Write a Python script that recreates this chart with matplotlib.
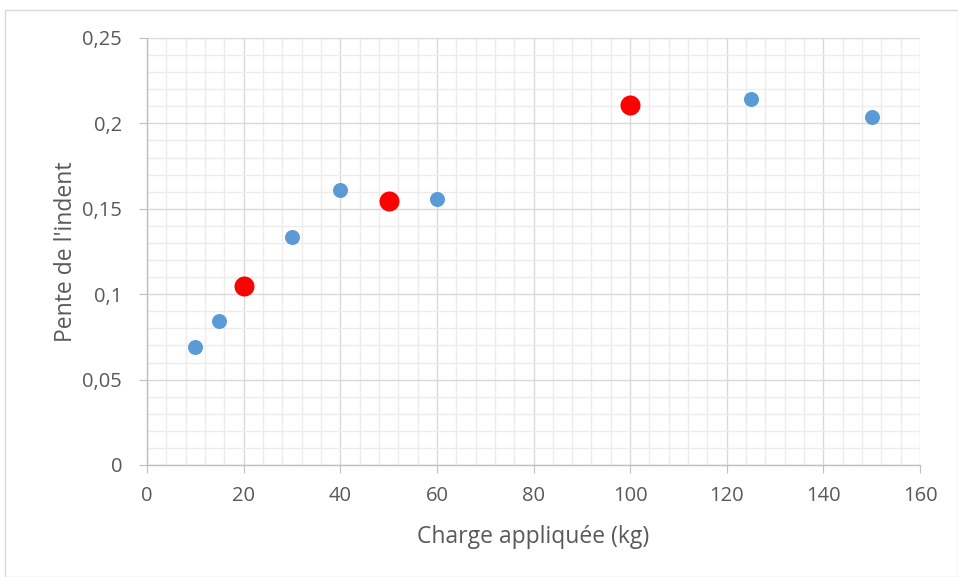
import matplotlib
matplotlib.use("Agg")
import matplotlib.pyplot as plt
from matplotlib.ticker import MultipleLocator, FixedLocator
from matplotlib.patches import Rectangle

blue_x = [10, 15, 30, 40, 60, 125, 150]
blue_y = [0.0691, 0.0843, 0.1335, 0.161, 0.1557, 0.2143, 0.2037]
red_x = [20, 50, 100]
red_y = [0.1048, 0.1546, 0.2108]

x_ticks = [0, 20, 40, 60, 80, 100, 120, 140, 160]
y_ticks = [0, 0.05, 0.1, 0.15, 0.2, 0.25]
y_tick_labels = ["0", "0,05", "0,1", "0,15", "0,2", "0,25"]

plt.rcParams['font.family'] = ['Open Sans', 'DejaVu Sans']

fig = plt.figure(figsize=(9.58, 5.77), dpi=100)
W, H = 958, 577
ax = fig.add_axes([147 / W, 1 - 465 / H, (920 - 147) / W, (465 - 38) / H])

# figure border
fig.patches.append(Rectangle((5 / W, 0), 1 - 5 / W, 1 - 10 / H, transform=fig.transFigure,
                             fill=False, edgecolor='#d9d9d9', linewidth=1))

ax.set_xlim(0, 160)
ax.set_ylim(0, 0.25)
ax.xaxis.set_major_locator(FixedLocator(x_ticks))
ax.yaxis.set_major_locator(FixedLocator(y_ticks))
ax.xaxis.set_minor_locator(MultipleLocator(4))
ax.yaxis.set_minor_locator(MultipleLocator(0.01))
ax.set_yticklabels(y_tick_labels)
ax.set_xticklabels([str(v) for v in x_ticks])

ax.grid(which='minor', color='#ececec', linewidth=1, zorder=0)
ax.grid(which='major', color='#d9d9d9', linewidth=1, zorder=0)
ax.set_axisbelow(True)

for s in ['top', 'right']:
    ax.spines[s].set_visible(False)
for s in ['left', 'bottom']:
    ax.spines[s].set_color('#bfbfbf')
    ax.spines[s].set_linewidth(1)

ax.tick_params(which='major', length=6, color='#bfbfbf', labelsize=14.5, labelcolor='#595959')
ax.tick_params(axis='x', which='major', pad=9)
ax.tick_params(axis='y', which='major', pad=12)
ax.tick_params(which='minor', length=0)

ax.scatter(blue_x, blue_y, s=(15 * 0.72) ** 2, color='#5B9BD5', zorder=3, linewidths=0)
ax.scatter(red_x, red_y, s=(20 * 0.72) ** 2, color='#FF0000', zorder=3, linewidths=0)

ax.set_xlabel("Charge appliquée (kg)", fontsize=16.5, color='#595959', labelpad=14)
ax.set_ylabel("Pente de l'indent", fontsize=16.5, color='#595959', labelpad=3)

fig.savefig("out.png", dpi=100)
